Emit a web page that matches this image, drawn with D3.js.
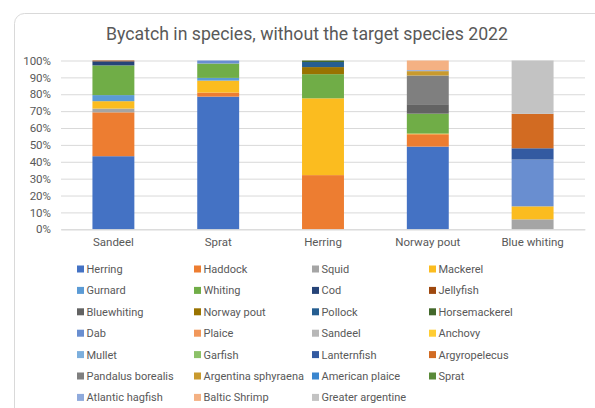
<!DOCTYPE html>
<html>
<head>
<meta charset="utf-8">
<script src="https://cdn.jsdelivr.net/npm/d3@7"></script>
<style>
  html, body { margin: 0; padding: 0; background: #fff; }
  svg { display: block; font-family: Roboto, "Open Sans", sans-serif; }
</style>
</head>
<body>
<svg id="chart" width="595" height="408"></svg>
<script>
const title = "Bycatch in species, without the target species 2022";
const categories = ["Sandeel", "Sprat", "Herring", "Norway pout", "Blue whiting"];
const species = ["Herring", "Haddock", "Squid", "Mackerel", "Gurnard", "Whiting", "Cod", "Jellyfish",
  "Bluewhiting", "Norway pout", "Pollock", "Horsemackerel", "Dab", "Plaice", "Sandeel", "Anchovy",
  "Mullet", "Garfish", "Lanternfish", "Argyropelecus", "Pandalus borealis", "Argentina sphyraena",
  "American plaice", "Sprat", "Atlantic hagfish", "Baltic Shrimp", "Greater argentine"];
const colors = ["#4472C4", "#ED7D31", "#A5A5A5", "#FBBC1F", "#5B9BD5", "#70AD47", "#264478", "#9E480E",
  "#636363", "#997300", "#255E91", "#43682B", "#698ED0", "#F1975A", "#B7B7B7", "#FFCD33",
  "#7CAFDD", "#8CC168", "#335AA1", "#D26B22", "#7F7F7F", "#C99A2E",
  "#3A86CF", "#5A8A39", "#8FAADC", "#F4B183", "#C3C3C3"];
// values (%) per catch, in species order
const sandeelValues     = [43.3, 26.0, 2.2, 4.4, 3.6, 17.6, 2.4, 0.5, 0, 0, 0, 0, 0, 0, 0, 0, 0, 0, 0, 0, 0, 0, 0, 0, 0, 0, 0];
const spratValues       = [78.6, 2.4, 0, 7.1, 1.6, 8.5, 0, 0, 0, 0, 0, 0, 1.8, 0, 0, 0, 0, 0, 0, 0, 0, 0, 0, 0, 0, 0, 0];
const herringValues     = [0, 32.1, 0, 45.5, 0, 14.3, 0, 0, 0, 4.2, 3.0, 0.9, 0, 0, 0, 0, 0, 0, 0, 0, 0, 0, 0, 0, 0, 0, 0];
const norwayPoutValues  = [49.0, 7.3, 0, 0.4, 0, 11.8, 0, 0, 5.6, 0, 0, 0, 0, 0, 0, 0, 0, 0, 0, 0, 17.0, 2.6, 0, 0, 0.6, 5.7, 0];
const blueWhitingValues = [0, 0, 5.9, 7.7, 0, 0, 0, 0, 0, 0, 0, 0, 27.7, 0, 0, 0, 0, 0, 6.7, 20.4, 0, 0, 0, 0, 0, 0, 31.6];
const yTicks = [0, 0.1, 0.2, 0.3, 0.4, 0.5, 0.6, 0.7, 0.8, 0.9, 1.0];

const valueRows = [sandeelValues, spratValues, herringValues, norwayPoutValues, blueWhitingValues];
const table = categories.map((c, i) => {
  const row = { category: c };
  species.forEach((s, j) => { row[s] = valueRows[i][j]; });
  return row;
});

const svg = d3.select("#chart");
const textColor = "#595959";

// frame
svg.append("rect").attr("x", 14.5).attr("y", 13.5).attr("width", 600).attr("height", 420)
  .attr("rx", 10).attr("fill", "#fff").attr("stroke", "#d9d9d9");

svg.append("text").attr("x", 307).attr("y", 40).attr("text-anchor", "middle")
  .attr("font-size", 17.7).attr("fill", textColor).text(title);

const x = d3.scaleBand().domain(categories).range([61, 585]).paddingInner(0.6).paddingOuter(0.3);
const y = d3.scaleLinear().domain([0, 1]).range([229.3, 60.5]);
const color = d3.scaleOrdinal().domain(species).range(colors);

// grid
const yAxis = d3.axisLeft(y).tickValues(yTicks).tickFormat(d3.format(".0%")).tickSize(-(585 - 61)).tickPadding(10);
const gy = svg.append("g").attr("transform", "translate(61,0)").call(yAxis);
gy.select(".domain").remove();
gy.selectAll(".tick line").attr("stroke", "#d9d9d9").attr("stroke-width", 1);
gy.selectAll(".tick text").attr("fill", textColor).attr("font-size", 11.5).attr("font-family", "Roboto, sans-serif");

const stack = d3.stack().keys(species).offset(d3.stackOffsetExpand);
const series = stack(table);

svg.append("g").selectAll("g").data(series).join("g")
  .attr("fill", d => color(d.key))
  .selectAll("rect").data(d => d).join("rect")
  .attr("x", d => x(d.data.category))
  .attr("width", x.bandwidth())
  .attr("y", d => y(d[1]))
  .attr("height", d => Math.max(0, y(d[0]) - y(d[1])));

// x axis
const xAxis = d3.axisBottom(x).tickSize(0).tickPadding(9);
const gx = svg.append("g").attr("transform", "translate(0,229.3)").call(xAxis);
gx.select(".domain").attr("stroke", "#d9d9d9");
gx.selectAll(".tick text").attr("fill", textColor).attr("font-size", 11.5).attr("font-family", "Roboto, sans-serif");

// legend
const colX = [77, 194, 312, 429];
const legend = svg.append("g").selectAll("g").data(species).join("g")
  .attr("transform", (d, i) => `translate(${colX[i % 4]},${269 + Math.floor(i / 4) * 21.4})`);
legend.append("rect").attr("x", 0).attr("y", -3.5).attr("width", 7).attr("height", 7).attr("fill", d => color(d));
legend.append("text").attr("x", 9.5).attr("y", 4).attr("font-size", 11).attr("fill", textColor).text(d => d);
</script>
</body>
</html>
